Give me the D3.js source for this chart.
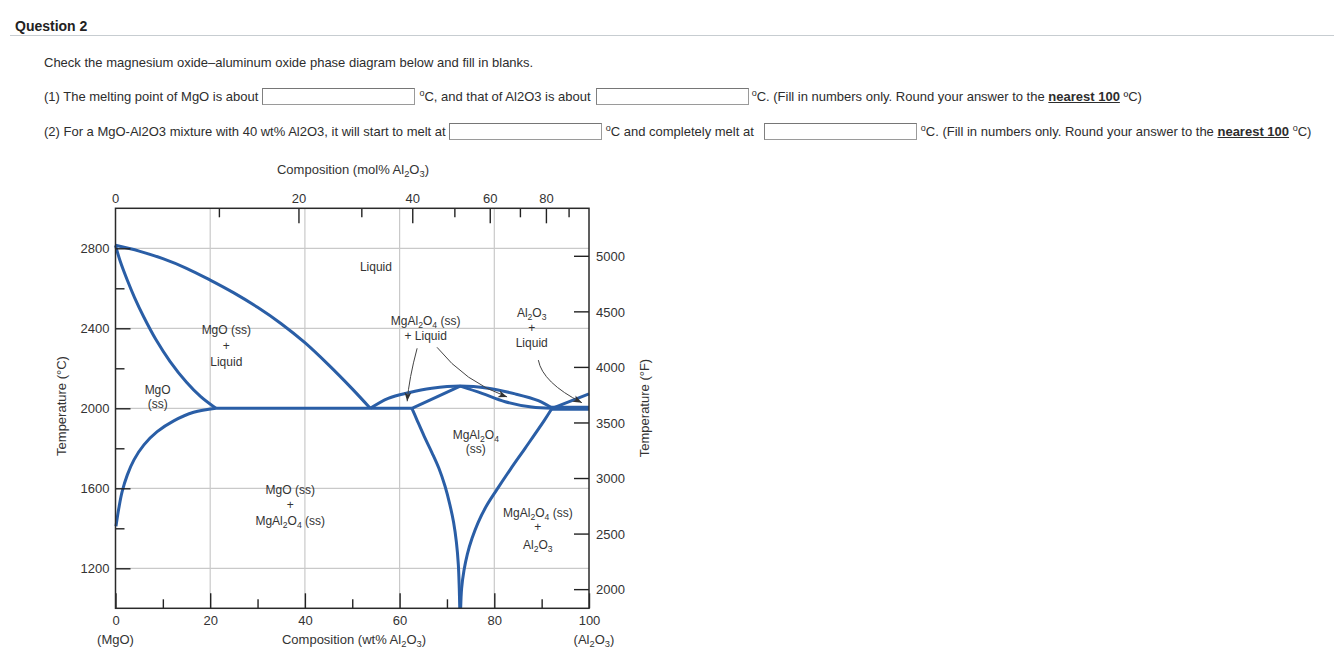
<!DOCTYPE html>
<html>
<head>
<meta charset="utf-8">
<script src="https://cdn.jsdelivr.net/npm/d3@7"></script>
<style>
  body { margin: 0; width: 1334px; height: 657px; background: #fff; position: relative; overflow: hidden;
         font-family: "Liberation Sans", Arial, sans-serif; font-size: 13px; color: #2d2d2d; }
  .q { position: absolute; left: 15px; top: 18px; font-weight: bold; font-size: 14px; color: #222; }
  .rule { position: absolute; left: 10px; top: 35px; width: 1324px; height: 1px; background: #c7cdd1; }
  .line { position: absolute; left: 44px; white-space: nowrap; line-height: 17px; }
  .box { display: inline-block; width: 151px; height: 15px; border: 1px solid #9a9a9a; border-top-color: #767676;
         border-left-color: #808080; background: #fff; vertical-align: top; }
  .deg { position: relative; top: -5px; font-size: 9px; }
  svg { position: absolute; left: 0; top: 0; }
</style>
</head>
<body>
<div class="q">Question 2</div>
<div class="rule"></div>
<div class="line" style="top:54px">Check the magnesium oxide–aluminum oxide phase diagram below and fill in blanks.</div>
<div class="line" style="top:88px">(1) The melting point of MgO is about<span class="box" style="margin:0 4px 0 4px"></span><span class="deg">o</span>C, and that of Al2O3 is about<span class="box" style="margin:0 3px 0 5px"></span><span class="deg">o</span>C. (Fill in numbers only. Round your answer to the <b><u>nearest 100</u></b> ºC)</div>
<div class="line" style="top:123px">(2) For a MgO-Al2O3 mixture with 40 wt% Al2O3, it will start to melt at<span class="box" style="margin:0 4px 0 3px"></span><span class="deg">o</span>C and completely melt at<span class="box" style="margin:0 4px 0 10px"></span><span class="deg">o</span>C. (Fill in numbers only. Round your answer to the <b><u>nearest 100</u></b> <span class="deg">o</span>C)</div>
<svg id="chart" width="1334" height="657"></svg>
<script>
// ---- data (wt% Al2O3, temperature in °C) ----
const mgoLiquidus = [[0,2815],[5,2786],[10,2748],[15,2700],[20,2641],[25,2577],[30,2505],[35,2423],[40,2328],[45,2217],[50,2097],[53.8,2000]];
const mgoSolidus = [[0,2815],[1,2735],[2.5,2640],[4,2555],[6,2455],[8.5,2345],[11.5,2235],[15,2130],[18,2058],[21.2,2000]];
const mgoSolvus = [[21.2,2000],[16.5,1980],[12.3,1937],[8.8,1883],[6.0,1817],[3.9,1742],[2.5,1667],[1.4,1583],[0.7,1500],[0.1,1410]];
const eutecticLeft = [[21.2,2000],[62.6,2000]];
const spinelLiquidus = [[53.8,2000],[57.6,2050],[61.9,2078],[66.8,2100],[72.8,2111],[78.7,2100],[84.4,2072],[89.3,2038],[92.2,2001]];
const spinelSolidusLeft = [[62.6,2000],[72.8,2111]];
const spinelSolidusRight = [[72.8,2111],[77.4,2075],[82.3,2033],[87.9,2006],[92.2,2000]];
const spinelSolvusLeft = [[62.6,2000],[63.7,1940],[65.2,1860],[66.8,1780],[68.3,1700],[69.6,1610],[70.6,1520],[71.4,1430],[72.0,1330],[72.4,1220],[72.6,1100],[72.7,1000]];
const spinelSolvusRight = [[92.2,2000],[90.6,1941],[86.5,1800],[83.4,1695],[80.5,1592],[78.3,1510],[76.6,1430],[75.3,1350],[74.3,1270],[73.6,1190],[73.1,1100],[72.9,1000]];
const eutecticRight = [[91.8,2000],[100,2000]];
const aluminaLiquidus = [[92.2,2000],[100,2072]];

// axis ticks
const wtLabels = [0, 20, 40, 60, 80, 100];
const wtMinor = [10, 30, 50, 70, 90];
const tempMajor = [1200, 1600, 2000, 2400, 2800];
const tempMinor = [1400, 1800, 2200, 2600];
const fTicks = [2000, 2500, 3000, 3500, 4000, 4500, 5000];
const molLabels = [0, 20, 40, 60, 80];
const molMajor = [20, 40, 60, 80];
const molMinor = [10, 30, 50, 70, 90];

// region labels: [wt%, °C baseline, text]
const labels = [
  [55.0, 2686, "Liquid"],
  [23.4, 2371, "MgO (ss)"], [23.4, 2292, "+"], [23.4, 2212, "Liquid"],
  [8.9, 2071, "MgO"], [8.9, 2002, "(ss)"],
  [65.5, 2416, "MgAl_2O_4 (ss)"], [65.5, 2341, "+ Liquid"],
  [87.9, 2456, "Al_2O_3"], [87.9, 2381, "+"], [87.9, 2306, "Liquid"],
  [76.1, 1846, "MgAl_2O_4"], [76.1, 1776, "(ss)"],
  [36.9, 1571, "MgO (ss)"], [36.9, 1496, "+"], [36.9, 1416, "MgAl_2O_4 (ss)"],
  [89.2, 1458, "MgAl_2O_4 (ss)"], [89.2, 1386, "+"], [89.2, 1296, "Al_2O_3"]
];
// arrows: start, control, end
const arrows = [
  [[63.7, 2300], [62.0, 2150], [61.6, 2035]],
  [[67.9, 2305], [73.8, 2131], [82.7, 2057]],
  [[89.3, 2241], [90.2, 2128], [98.5, 2028]]
];

(function () {
const MgO = 40.30, Al2O3 = 101.96;
const molToWt = m => 100 * m * Al2O3 / (m * Al2O3 + (100 - m) * MgO);
const fToC = f => (f - 32) * 5 / 9;

const svg = d3.select("#chart");
const x = d3.scaleLinear().domain([0, 100]).range([115.5, 589]);
const y = d3.scaleLinear().domain([1000, 3000]).range([608.3, 208.3]);
const xL = x(0), xR = x(100), yT = y(3000), yB = y(1000);
const blue = "#2a5ea6";
const font = '"Liberation Sans", Arial, sans-serif';

// grid
svg.append("g").selectAll("line").data(tempMajor).join("line")
  .attr("x1", xL).attr("x2", xR).attr("y1", d => y(d)).attr("y2", d => y(d))
  .attr("stroke", "#c9c9c9").attr("stroke-width", 1.2);
svg.append("g").selectAll("line").data([20, 40, 60, 80]).join("line")
  .attr("x1", d => x(d)).attr("x2", d => x(d)).attr("y1", yT).attr("y2", yB)
  .attr("stroke", "#c9c9c9").attr("stroke-width", 1.2);

// phase boundaries
const line = d3.line().x(d => x(d[0])).y(d => y(d[1])).curve(d3.curveCatmullRom.alpha(0.5));
const curves = [mgoLiquidus, mgoSolidus, mgoSolvus, eutecticLeft, spinelLiquidus, spinelSolidusLeft,
  spinelSolidusRight, spinelSolvusLeft, spinelSolvusRight, aluminaLiquidus];
svg.append("g").selectAll("path").data(curves).join("path")
  .attr("d", line).attr("fill", "none").attr("stroke", blue).attr("stroke-width", 3)
  .attr("stroke-linejoin", "round");
svg.append("path").attr("d", line(eutecticRight)).attr("stroke", blue).attr("stroke-width", 5).attr("fill", "none");

// axes
const axisStyle = g => {
  g.selectAll(".domain").remove();
  g.selectAll(".tick line").attr("stroke", "#222").attr("stroke-width", 1.4);
  g.selectAll("text").attr("fill", "#333").style("font-family", font).style("font-size", "13px");
};
svg.append("g").attr("transform", `translate(${xL},0)`)
  .call(d3.axisLeft(y).tickValues(tempMajor).tickSize(-15).tickPadding(6).tickFormat(d3.format("d"))).call(axisStyle);
svg.append("g").attr("transform", `translate(${xL},0)`)
  .call(d3.axisLeft(y).tickValues(tempMinor).tickSize(-9).tickFormat("")).call(axisStyle);
svg.append("g").attr("transform", `translate(0,${yB})`)
  .call(d3.axisBottom(x).tickValues(wtLabels).tickSize(-15).tickPadding(7)).call(axisStyle);
svg.append("g").attr("transform", `translate(0,${yB})`)
  .call(d3.axisBottom(x).tickValues(wtMinor).tickSize(-9).tickFormat("")).call(axisStyle);

// right °F axis
const fAxis = svg.append("g");
fAxis.selectAll("line").data(fTicks).join("line")
  .attr("x1", xR - 15).attr("x2", xR).attr("y1", d => y(fToC(d))).attr("y2", d => y(fToC(d)))
  .attr("stroke", "#222").attr("stroke-width", 1.4);
fAxis.selectAll("text").data(fTicks).join("text")
  .attr("x", xR + 7).attr("y", d => y(fToC(d))).attr("dy", "0.36em")
  .attr("fill", "#333").style("font-family", font).style("font-size", "13px").text(d => d);

// top mol% axis
const mAxis = svg.append("g");
mAxis.selectAll("line.maj").data(molMajor).join("line").attr("class", "maj")
  .attr("x1", d => x(molToWt(d))).attr("x2", d => x(molToWt(d))).attr("y1", yT).attr("y2", yT + 15)
  .attr("stroke", "#222").attr("stroke-width", 1.4);
mAxis.selectAll("line.min").data(molMinor).join("line").attr("class", "min")
  .attr("x1", d => x(molToWt(d))).attr("x2", d => x(molToWt(d))).attr("y1", yT).attr("y2", yT + 9)
  .attr("stroke", "#222").attr("stroke-width", 1.4);
mAxis.selectAll("text").data(molLabels).join("text")
  .attr("x", d => x(molToWt(d))).attr("y", yT - 5).attr("text-anchor", "middle")
  .attr("fill", "#333").style("font-family", font).style("font-size", "13px").text(d => d);

// frame
svg.append("rect").attr("x", xL).attr("y", yT).attr("width", xR - xL).attr("height", yB - yT)
  .attr("fill", "none").attr("stroke", "#2a2a2a").attr("stroke-width", 1.5);

// text with chemical subscripts
function chem(sel, str, size) {
  const parts = str.split(/_(\d)/);
  parts.forEach((p, i) => {
    if (p === "") return;
    const sub = i % 2 === 1;
    sel.append("tspan").text(p)
      .attr("font-size", sub ? size * 0.72 : size)
      .attr("dy", sub ? 3 : (i > 0 ? -3 : 0));
  });
}

// titles
const title = (tx, ty, str, rot) => {
  const t = svg.append("text").attr("x", tx).attr("y", ty).attr("text-anchor", "middle")
    .attr("fill", "#333").style("font-family", font).style("font-size", "13px");
  if (rot) t.attr("transform", `rotate(-90,${tx},${ty})`);
  chem(t, str, 13);
};
title(353, 174, "Composition (mol% Al_2O_3)");
title(354, 644, "Composition (wt% Al_2O_3)");
title(xL, 644, "(MgO)");
title(594, 644, "(Al_2O_3)");
title(66, 406, "Temperature (°C)", true);
title(649, 408, "Temperature (°F)", true);

// region labels
labels.forEach(([wx, t, str]) => {
  const el = svg.append("text").attr("x", x(wx)).attr("y", y(t)).attr("text-anchor", "middle")
    .attr("fill", "#333").style("font-family", font).style("font-size", "12px");
  chem(el, str, 12);
});

// arrows
svg.append("defs").append("marker").attr("id", "ah").attr("markerUnits", "userSpaceOnUse")
  .attr("markerWidth", 10).attr("markerHeight", 8).attr("refX", 9).attr("refY", 4).attr("orient", "auto")
  .append("path").attr("d", "M0,0.5 L9,4 L0,7.5 L2.5,4 Z").attr("fill", "#333");
svg.append("g").selectAll("path").data(arrows).join("path")
  .attr("d", d => `M${x(d[0][0])},${y(d[0][1])} Q${x(d[1][0])},${y(d[1][1])} ${x(d[2][0])},${y(d[2][1])}`)
  .attr("fill", "none").attr("stroke", "#444").attr("stroke-width", 1).attr("marker-end", "url(#ah)");
})();
</script>
</body>
</html>
